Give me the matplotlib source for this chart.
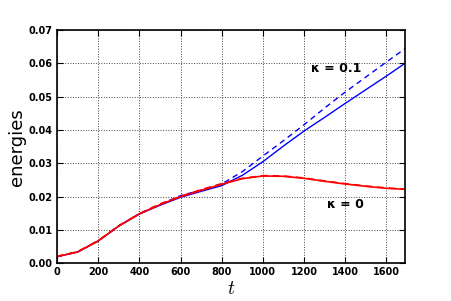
import numpy as np
import matplotlib
matplotlib.use("Agg")
import matplotlib.pyplot as plt

plt.rcParams['mathtext.fontset'] = 'cm'

# time samples
t = [0, 100, 200, 300, 400, 500, 600, 700, 800, 900, 1000,
     1100, 1200, 1300, 1400, 1500, 1600, 1690]

# kappa = 0.1 (blue)
blue_solid = [0.0020, 0.0034, 0.0067, 0.0112, 0.0148, 0.0174, 0.0198, 0.0216, 0.0233,
              0.0264, 0.0305, 0.0352, 0.0397, 0.0438, 0.0480, 0.0521, 0.0562, 0.0600]
blue_dashed = [0.0020, 0.0034, 0.0067, 0.0112, 0.0149, 0.0177, 0.0203, 0.0220, 0.0238,
               0.0275, 0.0322, 0.0368, 0.0416, 0.0466, 0.0514, 0.0559, 0.0604, 0.0644]

# kappa = 0 (red)
red_solid = [0.0020, 0.0034, 0.0067, 0.0112, 0.0148, 0.0176, 0.0200, 0.0219, 0.0237,
             0.0254, 0.0262, 0.0261, 0.0255, 0.0246, 0.0238, 0.0231, 0.0225, 0.0222]
red_dashed = [0.0021, 0.0035, 0.0068, 0.0113, 0.0149, 0.0178, 0.0201, 0.0221, 0.0239,
              0.0255, 0.0263, 0.0262, 0.0256, 0.0247, 0.0239, 0.0232, 0.0226, 0.0223]

xticks = [0, 200, 400, 600, 800, 1000, 1200, 1400, 1600]
yticks = [0.00, 0.01, 0.02, 0.03, 0.04, 0.05, 0.06, 0.07]

fig = plt.figure(figsize=(4.51, 3.01), dpi=100)
ax = fig.add_axes([0.1264, 0.1252, 0.7716, 0.7751])

ax.plot(t, blue_solid, color='#0000ff', lw=1.0)
ax.plot(t, blue_dashed, color='#0000ff', lw=1.0, ls='--', dashes=(4, 3))
ax.plot(t, red_solid, color='#ff0000', lw=1.2)
ax.plot(t, red_dashed, color='#ff0000', lw=1.2, ls='--', dashes=(4, 3))

ax.text(1355, 0.0585, u'\u03ba = 0.1', fontsize=9, fontweight='bold', ha='center', va='center')
ax.text(1401, 0.0175, u'\u03ba = 0', fontsize=9, fontweight='bold', ha='center', va='center')

ax.set_xlim(0, 1690)
ax.set_ylim(0, 0.07)
ax.set_xticks(xticks)
ax.set_xticklabels([str(v) for v in xticks], fontweight='bold')
ax.set_yticks(yticks)
ax.set_yticklabels(['%.2f' % v for v in yticks], fontweight='bold')
ax.tick_params(direction='in', labelsize=7, length=4, pad=3, top=True, right=True)
ax.grid(True, color='#444444', ls=':', lw=0.7)
for s in ax.spines.values():
    s.set_linewidth(1.2)

ax.set_xlabel('$t$', fontsize=14, labelpad=1)
ax.set_ylabel('energies', fontsize=13, labelpad=2)

fig.savefig('out.png', dpi=100)
